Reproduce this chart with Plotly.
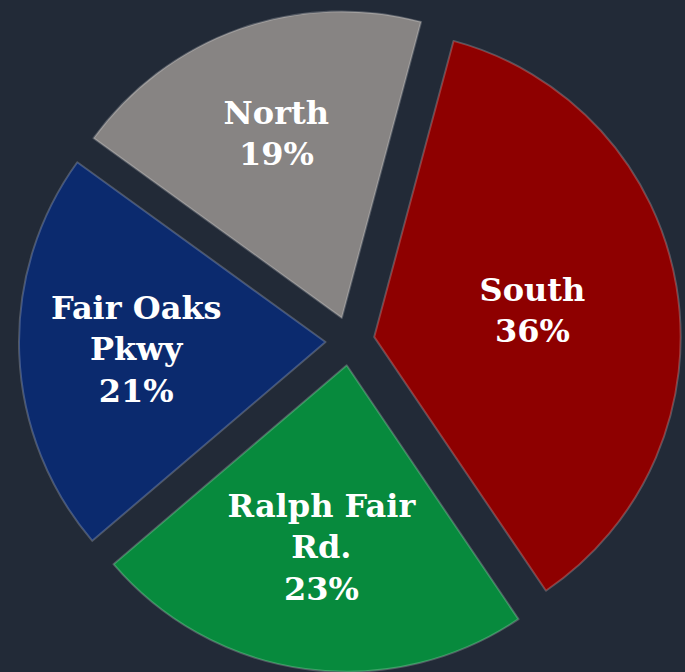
import plotly.graph_objects as go

labels = ["South", "Ralph Fair<br>Rd.", "Fair Oaks<br>Pkwy", "North"]
values = [36, 23, 21, 19]
colors = ["#8e0000", "#078a3d", "#0b2a6e", "#878483"]

fig = go.Figure(go.Pie(
    labels=labels,
    values=values,
    sort=False,
    direction="clockwise",
    rotation=15,
    pull=[0.08] * 4,
    marker=dict(colors=colors, line=dict(color="rgba(255,255,255,0.22)", width=2)),
    texttemplate="<b>%{label}<br>%{percent:.0%}</b>",
    textposition="inside",
    insidetextorientation="horizontal",
    textfont=dict(family="DejaVu Serif", size=32, color="white"),
    showlegend=False,
))
fig.update_layout(
    width=685, height=672,
    margin=dict(l=15, r=0, t=10, b=0),
    paper_bgcolor="#222a37",
    plot_bgcolor="#222a37",
)
fig.write_html("out.html", config={"displayModeBar": False})

with open("out.html", encoding="utf-8") as f:
    html = f.read()
html = html.replace("<body>", '<body style="margin:0;padding:0;background:#222a37;overflow:hidden">', 1)
with open("out.html", "w", encoding="utf-8") as f:
    f.write(html)
